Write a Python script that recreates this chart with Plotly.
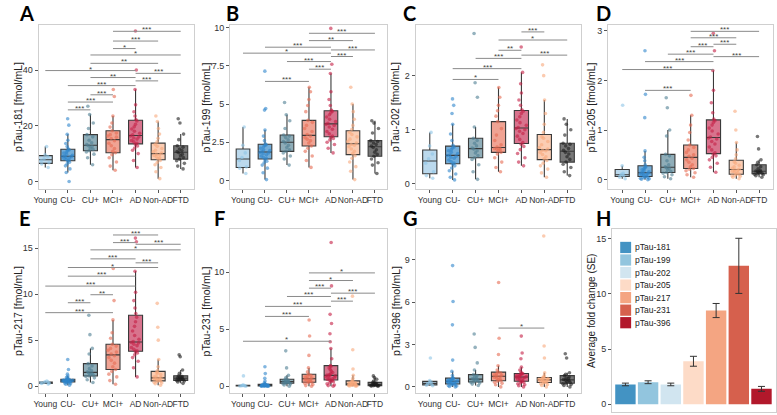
import plotly.graph_objects as go

W, H = 777, 415
GROUPS = ["Young", "CU-", "CU+", "MCI+", "AD", "Non-AD", "FTD"]
POINT_COLORS = ["#8ec4e6", "#2f86cc", "#4f7f92", "#e66a52", "#c41e45", "#f9a87c", "#1c1c1c"]
FILL_COLORS = ["rgba(170,208,232,0.8)", "rgba(80,152,208,0.8)", "rgba(115,152,166,0.8)",
               "rgba(236,140,120,0.8)", "rgba(206,80,112,0.8)", "rgba(250,192,160,0.8)",
               "rgba(95,95,95,0.85)"]

# ---- values per group (order = GROUPS) ----
P181 = [
    [5.0, 6.3, 6.7, 7.5, 8.1, 8.9, 9.6, 12.5],
    [0.0, 3.2, 4.5, 5.6, 6.3, 6.9, 7.3, 7.6, 7.9, 8.2, 8.5, 8.7, 8.9, 9.0, 9.1, 9.4, 9.8, 10.2, 10.6, 11.0, 11.4, 11.7, 12.5, 13.6, 14.8, 16.9, 20.2, 22.5],
    [6.0, 8.5, 9.8, 10.6, 11.0, 11.5, 12.0, 12.5, 12.8, 13.2, 13.9, 14.8, 16.0, 16.8, 19.0, 21.0, 24.0, 27.0],
    [4.0, 5.5, 7.0, 8.5, 9.6, 10.3, 10.8, 11.8, 12.8, 13.7, 14.6, 15.4, 15.9, 16.3, 16.8, 17.4, 18.2, 19.5, 21.0, 23.5, 30.5, 33.0],
    [5.0, 7.5, 10.0, 11.2, 12.0, 12.7, 13.3, 13.7, 14.2, 14.7, 15.2, 15.6, 16.0, 16.3, 16.7, 17.3, 18.0, 18.8, 19.6, 20.5, 21.7, 22.2, 23.5, 25.0, 27.5, 33.0, 40.0, 54.0],
    [1.0, 3.5, 5.0, 6.0, 6.8, 7.5, 8.1, 8.5, 8.9, 9.3, 9.6, 9.8, 10.2, 10.6, 11.2, 11.8, 12.6, 13.3, 14.2, 15.5, 17.0, 19.0, 21.5, 23.5],
    [4.5, 5.5, 6.5, 7.4, 8.0, 8.6, 9.2, 9.8, 10.3, 10.7, 11.1, 11.6, 12.3, 12.8, 15.0, 17.0, 21.0, 22.5],
]
P199 = [
    [0.45, 0.8, 0.88, 1.3, 1.5, 1.8, 2.3, 3.5],
    [0.05, 0.5, 0.8, 1.0, 1.15, 1.25, 1.35, 1.45, 1.5, 1.6, 1.68, 1.75, 1.8, 1.83, 1.88, 1.95, 2.0, 2.1, 2.2, 2.28, 2.33, 2.4, 2.6, 2.9, 3.3, 4.6, 4.7, 7.15],
    [1.0, 1.4, 1.6, 1.8, 1.9, 2.0, 2.15, 2.3, 2.45, 2.55, 2.65, 2.8, 2.9, 2.97, 3.4, 3.9, 4.3, 5.1],
    [0.85, 1.3, 1.6, 1.9, 2.1, 2.25, 2.45, 2.6, 2.7, 2.8, 2.9, 3.0, 3.2, 3.4, 3.6, 3.8, 3.93, 4.5, 4.9, 5.3, 5.8, 6.1],
    [1.8, 2.1, 2.35, 2.5, 2.65, 2.75, 2.82, 2.9, 3.05, 3.2, 3.35, 3.5, 3.6, 3.67, 3.73, 3.85, 4.0, 4.15, 4.3, 4.42, 4.52, 4.6, 4.9, 5.3, 5.8, 7.0, 7.6, 9.95],
    [0.05, 0.6, 0.9, 1.2, 1.45, 1.62, 1.75, 1.9, 2.05, 2.2, 2.3, 2.35, 2.45, 2.55, 2.7, 2.85, 3.0, 3.15, 3.35, 3.6, 4.0, 4.5, 5.0, 6.1],
    [0.45, 1.0, 1.15, 1.4, 1.58, 1.7, 1.85, 2.0, 2.15, 2.25, 2.35, 2.45, 2.55, 2.6, 3.1, 3.4, 3.75, 3.9],
]
P202 = [
    [0.1, 0.15, 0.22, 0.38, 0.46, 0.55, 0.7, 0.95],
    [0.07, 0.12, 0.18, 0.24, 0.29, 0.33, 0.36, 0.38, 0.41, 0.44, 0.47, 0.49, 0.51, 0.52, 0.53, 0.56, 0.58, 0.61, 0.63, 0.66, 0.68, 0.71, 0.8, 0.92, 1.1, 1.3, 1.45, 1.57],
    [0.08, 0.22, 0.35, 0.45, 0.48, 0.52, 0.57, 0.61, 0.64, 0.66, 0.7, 0.75, 0.8, 0.84, 1.05, 1.6, 1.87, 2.78],
    [0.22, 0.3, 0.4, 0.48, 0.55, 0.58, 0.61, 0.63, 0.64, 0.65, 0.66, 0.68, 0.72, 0.8, 0.9, 1.02, 1.15, 1.25, 1.35, 1.45, 1.6, 1.78],
    [0.33, 0.4, 0.48, 0.56, 0.63, 0.69, 0.73, 0.76, 0.82, 0.88, 0.93, 0.97, 1.0, 1.02, 1.04, 1.08, 1.13, 1.18, 1.24, 1.3, 1.34, 1.37, 1.45, 1.55, 1.68, 1.85, 2.06, 2.53],
    [0.12, 0.2, 0.27, 0.33, 0.38, 0.43, 0.46, 0.5, 0.54, 0.58, 0.61, 0.62, 0.64, 0.67, 0.72, 0.78, 0.84, 0.87, 0.95, 1.1, 1.3, 1.55, 2.0, 2.2],
    [0.15, 0.22, 0.3, 0.36, 0.4, 0.45, 0.5, 0.55, 0.58, 0.62, 0.65, 0.7, 0.73, 0.75, 0.9, 1.0, 1.1, 1.2],
]
P205 = [
    [0.02, 0.05, 0.08, 0.09, 0.11, 0.13, 0.28, 1.5],
    [0.0, 0.01, 0.02, 0.03, 0.04, 0.05, 0.055, 0.07, 0.08, 0.1, 0.11, 0.12, 0.13, 0.135, 0.145, 0.16, 0.18, 0.2, 0.22, 0.24, 0.26, 0.3, 0.38, 0.45, 0.58, 1.25, 1.72, 2.6],
    [0.02, 0.06, 0.1, 0.13, 0.145, 0.17, 0.2, 0.23, 0.24, 0.26, 0.3, 0.38, 0.48, 0.51, 0.88, 1.0, 1.45, 1.65],
    [0.05, 0.1, 0.14, 0.18, 0.21, 0.225, 0.26, 0.3, 0.35, 0.4, 0.43, 0.47, 0.5, 0.55, 0.6, 0.65, 0.7, 0.8, 0.95, 1.1, 1.3, 1.7],
    [0.15, 0.25, 0.33, 0.4, 0.45, 0.48, 0.51, 0.54, 0.6, 0.66, 0.72, 0.77, 0.82, 0.84, 0.86, 0.92, 0.98, 1.04, 1.1, 1.15, 1.19, 1.22, 1.35, 1.55, 1.8, 2.2, 2.6, 2.95],
    [0.02, 0.05, 0.07, 0.08, 0.09, 0.1, 0.12, 0.14, 0.16, 0.17, 0.19, 0.2, 0.21, 0.23, 0.26, 0.29, 0.33, 0.36, 0.42, 0.5, 0.6, 0.75, 1.0, 1.38],
    [0.05, 0.08, 0.1, 0.11, 0.12, 0.13, 0.15, 0.16, 0.165, 0.175, 0.19, 0.22, 0.26, 0.3, 0.35, 0.4, 0.62, 0.87],
]
P217 = [
    [0.22, 0.28, 0.32, 0.36, 0.4, 0.43, 0.48, 0.55],
    [0.1, 0.2, 0.28, 0.34, 0.38, 0.42, 0.44, 0.46, 0.49, 0.52, 0.54, 0.56, 0.58, 0.59, 0.61, 0.63, 0.65, 0.67, 0.69, 0.72, 0.74, 0.77, 0.85, 0.95, 1.1, 1.3, 1.8, 2.9],
    [0.4, 0.7, 0.9, 1.05, 1.1, 1.2, 1.3, 1.4, 1.45, 1.55, 1.7, 1.9, 2.2, 2.45, 3.5, 4.1, 5.6, 7.7],
    [0.2, 0.6, 1.0, 1.3, 1.6, 1.8, 2.1, 2.5, 2.8, 3.1, 3.3, 3.5, 3.7, 3.9, 4.1, 4.35, 4.55, 5.2, 5.8, 7.2, 9.3, 12.8],
    [1.0, 2.0, 2.7, 3.1, 3.4, 3.6, 3.75, 3.85, 4.0, 4.2, 4.4, 4.55, 4.7, 4.75, 4.85, 5.1, 5.5, 6.0, 6.5, 7.0, 7.5, 7.9, 8.5, 9.3, 10.2, 12.5, 15.7, 16.1],
    [0.1, 0.25, 0.35, 0.42, 0.48, 0.53, 0.6, 0.66, 0.72, 0.78, 0.85, 0.88, 0.92, 0.98, 1.1, 1.25, 1.4, 1.5, 1.7, 2.1, 2.9, 5.0, 6.4, 9.0],
    [0.3, 0.45, 0.55, 0.6, 0.62, 0.7, 0.75, 0.8, 0.83, 0.87, 0.92, 0.98, 1.05, 1.12, 1.4, 1.75, 3.2, 3.4],
]
P231 = [
    [0.0, 0.01, 0.03, 0.04, 0.06, 0.07, 0.1, 0.9],
    [0.0, 0.0, 0.005, 0.01, 0.015, 0.02, 0.02, 0.03, 0.04, 0.05, 0.06, 0.065, 0.07, 0.075, 0.085, 0.09, 0.1, 0.11, 0.12, 0.13, 0.145, 0.16, 0.2, 0.3, 0.45, 0.7, 1.1, 1.7],
    [0.0, 0.1, 0.18, 0.22, 0.25, 0.28, 0.32, 0.36, 0.38, 0.42, 0.45, 0.5, 0.53, 0.6, 0.75, 0.95, 1.6, 3.1],
    [0.0, 0.05, 0.15, 0.25, 0.3, 0.34, 0.38, 0.45, 0.52, 0.58, 0.62, 0.67, 0.72, 0.8, 0.88, 0.95, 1.05, 1.25, 1.6, 2.7, 4.4, 5.8],
    [0.0, 0.05, 0.1, 0.2, 0.3, 0.38, 0.45, 0.5, 0.54, 0.58, 0.64, 0.7, 0.76, 0.82, 0.87, 0.9, 0.93, 0.97, 1.02, 1.1, 1.2, 1.32, 1.45, 1.6, 1.72, 1.8, 2.4, 3.3, 3.9, 4.6, 5.5, 6.3, 8.8, 12.6],
    [0.0, 0.02, 0.04, 0.06, 0.08, 0.09, 0.11, 0.13, 0.15, 0.17, 0.18, 0.19, 0.21, 0.24, 0.28, 0.32, 0.38, 0.43, 0.5, 0.7, 0.95, 1.5, 3.2, 7.9],
    [0.0, 0.01, 0.03, 0.04, 0.05, 0.07, 0.09, 0.12, 0.14, 0.16, 0.19, 0.23, 0.28, 0.33, 0.45, 0.6, 0.75, 0.9],
]
P396 = [
    [0.08, 0.12, 0.17, 0.22, 0.28, 0.34, 0.45, 2.05],
    [0.0, 0.03, 0.07, 0.1, 0.13, 0.16, 0.19, 0.22, 0.26, 0.3, 0.33, 0.36, 0.38, 0.39, 0.41, 0.44, 0.47, 0.5, 0.53, 0.56, 0.59, 0.65, 0.8, 1.1, 1.9, 4.4, 6.05, 8.6],
    [0.1, 0.2, 0.27, 0.32, 0.35, 0.4, 0.45, 0.5, 0.53, 0.57, 0.62, 0.7, 0.8, 0.87, 1.2, 1.7, 2.8, 3.75],
    [0.0, 0.15, 0.25, 0.33, 0.4, 0.44, 0.5, 0.56, 0.62, 0.68, 0.73, 0.77, 0.81, 0.86, 0.92, 0.98, 1.05, 1.2, 1.5, 2.3, 3.45, 7.4],
    [0.0, 0.08, 0.15, 0.22, 0.28, 0.33, 0.38, 0.42, 0.48, 0.54, 0.59, 0.63, 0.67, 0.69, 0.71, 0.74, 0.78, 0.82, 0.86, 0.9, 0.94, 0.97, 1.05, 1.2, 1.4, 2.0, 2.4, 3.6],
    [0.0, 0.1, 0.17, 0.22, 0.26, 0.29, 0.33, 0.37, 0.41, 0.44, 0.47, 0.49, 0.51, 0.53, 0.56, 0.59, 0.62, 0.64, 0.7, 0.8, 1.0, 2.05, 2.9, 10.7],
    [0.0, 0.1, 0.18, 0.22, 0.26, 0.32, 0.38, 0.44, 0.48, 0.52, 0.57, 0.63, 0.7, 0.8, 0.9, 1.0, 2.05, 2.35],
]

# ---- significance brackets: (group1, group2, height, label) ----
SIG181 = [("MCI+", "FTD", 53.9, "***"), ("MCI+", "Non-AD", 50.4, "***"), ("MCI+", "AD", 47.7, "*"),
          ("CU+", "FTD", 45.4, "*"), ("CU+", "Non-AD", 42.4, "**"), ("Young", "AD", 39.8, "*"),
          ("AD", "FTD", 38.8, "***"), ("CU+", "AD", 37.3, "**"), ("AD", "Non-AD", 36.1, "***"),
          ("CU-", "AD", 34.4, "***"), ("CU+", "MCI+", 31.1, "***"), ("CU-", "MCI+", 28.5, "***"),
          ("CU-", "CU+", 25.7, "***")]
SIG199 = [("MCI+", "FTD", 9.63, "***"), ("MCI+", "Non-AD", 9.15, "**"), ("CU-", "AD", 8.72, "***"),
          ("AD", "FTD", 8.54, "***"), ("Young", "AD", 8.33, "*"), ("AD", "Non-AD", 8.11, "***"),
          ("CU+", "AD", 7.78, "***"), ("MCI+", "AD", 7.28, "***"), ("CU-", "MCI+", 6.48, "***")]
SIG202 = [("AD", "Non-AD", 2.81, "***"), ("MCI+", "FTD", 2.66, "*"), ("MCI+", "AD", 2.47, "**"),
          ("AD", "FTD", 2.38, "***"), ("CU+", "AD", 2.32, "***"), ("CU-", "AD", 2.13, "***"),
          ("CU-", "MCI+", 1.93, "*")]
SIG205 = [("MCI+", "FTD", 2.99, "***"), ("MCI+", "Non-AD", 2.86, "***"), ("AD", "Non-AD", 2.73, "***"),
          ("MCI+", "AD", 2.68, "***"), ("CU+", "AD", 2.53, "***"), ("AD", "FTD", 2.48, "***"),
          ("CU-", "AD", 2.38, "***"), ("Young", "AD", 2.22, "***"), ("CU-", "MCI+", 1.80, "***")]
SIG217 = [("MCI+", "Non-AD", 16.44, "***"), ("MCI+", "AD", 15.61, "***"), ("AD", "FTD", 15.43, "***"),
          ("CU+", "FTD", 14.82, "*"), ("CU+", "AD", 13.84, "***"), ("AD", "Non-AD", 13.41, "***"),
          ("CU-", "Non-AD", 12.9, "*"), ("CU-", "AD", 11.96, "***"), ("Young", "AD", 10.88, "***"),
          ("CU+", "MCI+", 9.94, "**"), ("CU-", "CU+", 9.07, "***"), ("Young", "MCI+", 7.99, "***")]
SIG231 = [("MCI+", "FTD", 9.94, "*"), ("MCI+", "Non-AD", 9.27, "*"), ("MCI+", "AD", 8.6, "***"),
          ("AD", "FTD", 8.16, "***"), ("CU+", "AD", 7.87, "***"), ("AD", "Non-AD", 7.46, "***"),
          ("CU-", "AD", 7.0, "***"), ("CU-", "MCI+", 6.12, "***"), ("Young", "AD", 3.94, "*")]
SIG396 = [("MCI+", "Non-AD", 4.17, "*")]

# ---- panel H ----
BAR_NAMES = ["pTau-181", "pTau-199", "pTau-202", "pTau-205", "pTau-217", "pTau-231", "pTau-396"]
BAR_VALUES = [1.8, 2.0, 1.8, 3.9, 8.5, 12.55, 1.4]
BAR_SE = [0.12, 0.13, 0.12, 0.45, 0.64, 2.5, 0.22]
BAR_COLORS = ["#4393c3", "#92c5de", "#d1e5f0", "#fddbc7", "#f4a582", "#d6604d", "#b2182b"]

# ---- layout of panels (pixel boxes of plotting areas, x ranges in category units) ----
PANELS = [
    dict(letter="A", vals=P181, sig=SIG181, ylab="pTau-181 [fmol/mL]", yr=[-2.75, 56.2],
         tv=[0, 20, 40], tt=["0", "20", "40"], x0=34, x1=190.5, xr=[-0.29, 6.59],
         y0=23, y1=188, lx=12, ly=-3, tx=13),
    dict(letter="B", vals=P199, sig=SIG199, ylab="pTau-199 [fmol/mL]", yr=[-0.57, 10.18],
         tv=[0, 2.5, 5, 7.5, 10], tt=["0", "2.5", "5", "7.5", "10"], x0=227, x1=385, xr=[-0.58, 6.55],
         y0=23, y1=188, lx=221, ly=-3, tx=203),
    dict(letter="C", vals=P202, sig=SIG202, ylab="pTau-202 [fmol/mL]", yr=[-0.1, 2.94],
         tv=[0, 1, 2], tt=["0", "1", "2"], x0=414, x1=580, xr=[-0.61, 6.58],
         y0=23, y1=188, lx=399, ly=-3, tx=393),
    dict(letter="D", vals=P205, sig=SIG205, ylab="pTau-205 [fmol/mL]", yr=[-0.19, 3.12],
         tv=[0, 1, 2, 3], tt=["0", "1", "2", "3"], x0=608, x1=774, xr=[-0.61, 6.61],
         y0=23, y1=188, lx=594, ly=-3, tx=591),
    dict(letter="E", vals=P217, sig=SIG217, ylab="pTau-217 [fmol/mL]", yr=[-0.76, 17.1],
         tv=[0, 5, 10, 15], tt=["0", "5", "10", "15"], x0=34, x1=190.5, xr=[-0.29, 6.59],
         y0=228, y1=393, lx=12, ly=203, tx=13),
    dict(letter="F", vals=P231, sig=SIG231, ylab="pTau-231 [fmol/mL]", yr=[-0.61, 13.8],
         tv=[0, 5, 10], tt=["0", "5", "10"], x0=227, x1=385, xr=[-0.58, 6.55],
         y0=228, y1=393, lx=209, ly=203, tx=203),
    dict(letter="G", vals=P396, sig=SIG396, ylab="pTau-396 [fmol/mL]", yr=[-0.44, 11.2],
         tv=[0, 3, 6, 9], tt=["0", "3", "6", "9"], x0=414, x1=580, xr=[-0.61, 6.58],
         y0=228, y1=393, lx=399, ly=203, tx=394),
]
H_BOX = dict(letter="H", ylab="Average fold change (SE)", yr=[-0.7, 15.9], tv=[0, 5, 10, 15],
             x0=612, x1=777, y0=228, y1=412, lx=594, ly=203, tx=591)

FONT = "Liberation Sans"
FRAME = "#cfcfcf"
TICKC = "#333333"


def fx(px):
    return px / W


def fy(py):
    return 1 - py / H


fig = go.Figure()
layout = dict(width=W, height=H, autosize=False, margin=dict(l=0, r=0, t=0, b=0),
              paper_bgcolor="white", plot_bgcolor="white", showlegend=False,
              boxmode="overlay", font=dict(family=FONT, color=TICKC))
shapes, annots = [], []


def axis_common():
    return dict(showline=True, mirror=True, linecolor=FRAME, linewidth=1.3, showgrid=False,
                zeroline=False, ticks="outside", ticklen=3, tickwidth=1, tickcolor="#555555",
                fixedrange=True)


for i, p in enumerate(PANELS):
    n = i + 1
    xa, ya = ("x", "y") if n == 1 else (f"x{n}", f"y{n}")
    xkey, ykey = ("xaxis", "yaxis") if n == 1 else (f"xaxis{n}", f"yaxis{n}")
    for g, name in enumerate(GROUPS):
        vals = p["vals"][g]
        fig.add_trace(go.Box(
            y=vals, x=[name] * len(vals), xaxis=xa, yaxis=ya, width=0.62,
            boxpoints="all", jitter=0.8, pointpos=0, whiskerwidth=0,
            fillcolor=FILL_COLORS[g], line=dict(color="#3a3a3a", width=1.1),
            marker=dict(color=POINT_COLORS[g], size=3.6, opacity=0.6, line=dict(width=0)),
            hoverinfo="skip"))
    xd = axis_common()
    xd.update(domain=[fx(p["x0"]), fx(p["x1"])], anchor=ya, type="category",
              categoryorder="array", categoryarray=GROUPS, range=p["xr"], tickangle=0,
              tickfont=dict(size=8.5, color=TICKC, family=FONT))
    yd = axis_common()
    yd.update(domain=[fy(p["y1"]), fy(p["y0"])], anchor=xa, range=p["yr"],
              tickvals=p["tv"], ticktext=p["tt"], tickfont=dict(size=9, color=TICKC, family=FONT))
    layout[xkey] = xd
    layout[ykey] = yd
    for g1, g2, yv, lab in p["sig"]:
        i1, i2 = GROUPS.index(g1), GROUPS.index(g2)
        shapes.append(dict(type="line", xref=xa, yref=ya, x0=i1, x1=i2, y0=yv, y1=yv,
                           line=dict(color="#8a8a8a", width=1)))
        annots.append(dict(xref=xa, yref=ya, x=(i1 + i2) / 2, y=yv, text=lab, showarrow=False,
                           xanchor="center", yanchor="middle", yshift=1.5,
                           font=dict(size=8, color="#444444", family=FONT)))
    annots.append(dict(xref="paper", yref="paper", x=fx(p["lx"]), y=fy(p["ly"]),
                       text="<b>" + p["letter"] + "</b>", showarrow=False, xanchor="left", yanchor="top",
                       font=dict(size=20, color="black", family="Lato")))
    annots.append(dict(xref="paper", yref="paper", x=fx(p["tx"]), y=fy((p["y0"] + p["y1"]) / 2),
                       text=p["ylab"], showarrow=False, textangle=-90, xanchor="center", yanchor="middle",
                       font=dict(size=10.5, color="#222222", family=FONT)))

# ---- panel H: bar chart ----
hp = H_BOX
fig.add_trace(go.Bar(x=list(range(len(BAR_VALUES))), y=BAR_VALUES, width=0.9, xaxis="x8", yaxis="y8",
                     marker=dict(color=BAR_COLORS, line=dict(width=0)),
                     error_y=dict(type="data", array=BAR_SE, color="#333333", thickness=1, width=3.5),
                     hoverinfo="skip"))
xd = axis_common()
xd.update(domain=[fx(hp["x0"]), fx(hp["x1"])], anchor="y8", range=[-0.58, 6.64],
          showticklabels=False, ticks="")
yd = axis_common()
yd.update(domain=[fy(hp["y1"]), fy(hp["y0"])], anchor="x8", range=hp["yr"], tickvals=hp["tv"],
          tickfont=dict(size=9, color=TICKC, family=FONT))
layout["xaxis8"] = xd
layout["yaxis8"] = yd
annots.append(dict(xref="paper", yref="paper", x=fx(hp["lx"]), y=fy(hp["ly"]), text="<b>H</b>",
                   showarrow=False, xanchor="left", yanchor="top",
                   font=dict(size=20, color="black", family="Lato")))
annots.append(dict(xref="paper", yref="paper", x=fx(hp["tx"]), y=fy(310), text=hp["ylab"],
                   showarrow=False, textangle=-90, xanchor="center", yanchor="middle",
                   font=dict(size=10, color="#222222", family=FONT)))
# legend of panel H (keys stacked, built from bar names/colours)
LEG_X, LEG_Y, LEG_STEP, LEG_KEY = 620, 241, 12.6, 11.3
for k, (nm, col) in enumerate(zip(BAR_NAMES, BAR_COLORS)):
    top = LEG_Y + k * LEG_STEP
    shapes.append(dict(type="rect", xref="paper", yref="paper", x0=fx(LEG_X), x1=fx(LEG_X + 11),
                       y0=fy(top + LEG_KEY), y1=fy(top), fillcolor=col, line=dict(width=0)))
    annots.append(dict(xref="paper", yref="paper", x=fx(LEG_X + 13), y=fy(top + LEG_KEY / 2), text=nm,
                       showarrow=False, xanchor="left", yanchor="middle",
                       font=dict(size=8.5, color="#222222", family=FONT)))

layout["shapes"] = shapes
layout["annotations"] = annots
fig.update_layout(**layout)
fig.write_html("out.html", config={"displayModeBar": False},
               post_script="document.body.style.margin='0';document.body.style.overflow='hidden';")
